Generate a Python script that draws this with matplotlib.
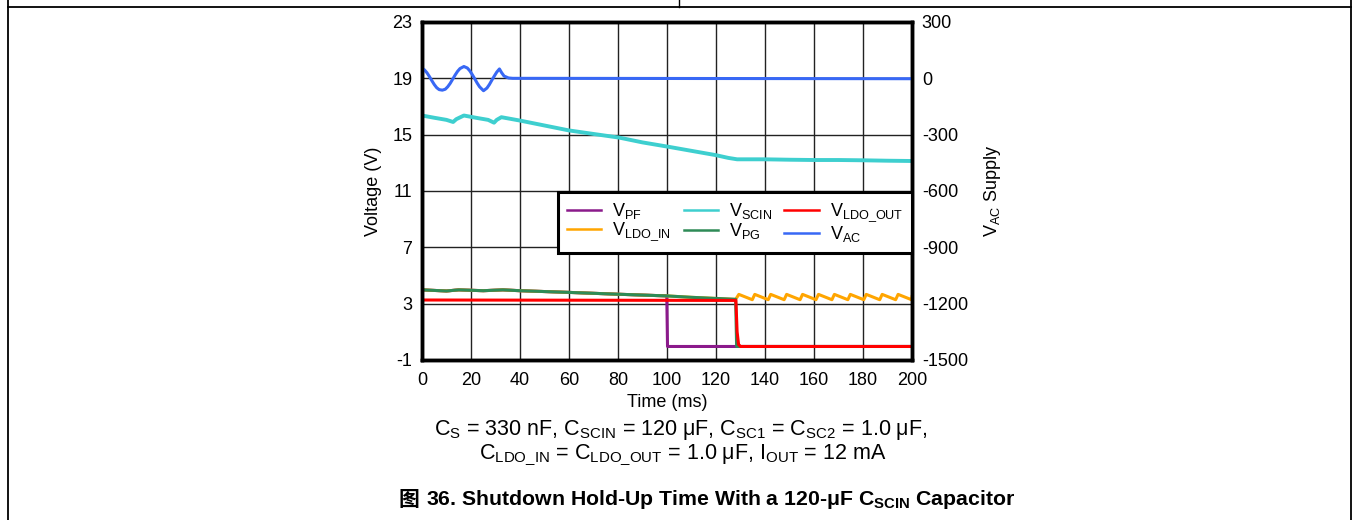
import matplotlib
matplotlib.use("Agg")
import matplotlib.pyplot as plt
from matplotlib.lines import Line2D

plt.rcParams['font.family'] = ['Liberation Sans', 'Noto Sans CJK SC', 'DejaVu Sans']
plt.rcParams['mathtext.fontset'] = 'custom'
plt.rcParams['mathtext.rm'] = 'Liberation Sans'
plt.rcParams['mathtext.it'] = 'Liberation Sans:italic'
plt.rcParams['mathtext.bf'] = 'Liberation Sans:bold'
plt.rcParams['axes.unicode_minus'] = False

# ---- data (time in ms) ----
# V_AC on the right axis
t_ac = [0, 1, 2, 3, 4, 5, 6, 7, 8.3, 9.5, 10.5, 11.5, 12.5, 13.5, 14.5, 15.5,
        17.1, 18.5, 19.5, 20.5, 21.5, 22.5, 23.5, 25.1, 26.5, 27.5, 28.5, 29.5,
        30.5, 31.6, 32.5, 33.5, 35.3, 37, 200]
v_ac = [54, 45, 30, 10, -12, -33, -50, -60, -63, -58, -45, -27, -5, 17, 37, 52,
        63, 55, 40, 20, -2, -25, -45, -66, -52, -33, -10, 12,
        33, 50, 30, 12, 2, 0, -2]

t_scin = [0, 5, 10, 12.7, 14, 17.1, 22, 27, 29.4, 30.5, 32.4, 40, 50, 60, 70,
          80.5, 90, 100.9, 110, 119.8, 125, 128.6, 135, 140, 150, 160, 170,
          180, 190, 200]
v_scin = [16.36, 16.2, 16.05, 15.9, 16.1, 16.36, 16.2, 16.05, 15.85, 16.05,
          16.24, 16.0, 15.65, 15.3, 15.05, 14.79, 14.45, 14.13, 13.85, 13.55,
          13.35, 13.25, 13.25, 13.25, 13.22, 13.2, 13.2, 13.18, 13.15, 13.13]

t_pg = [0, 10, 15, 25, 33, 40, 60, 80, 100, 110, 120, 128.0, 128.4, 200]
v_pg = [3.98, 3.9, 3.98, 3.92, 3.98, 3.92, 3.8, 3.67, 3.55, 3.45, 3.37, 3.31,
        -0.04, -0.04]

t_pf = [0, 10, 15, 25, 33, 40, 60, 80, 99.9, 100.2, 200]
v_pf = [3.98, 3.9, 3.98, 3.92, 3.98, 3.92, 3.8, 3.67, 3.55, -0.04, -0.04]

t_ldo_in = [0, 10, 15, 25, 33, 40, 60, 80, 100, 110, 120, 128.0,
            129.3, 134.8, 135.8, 141.3, 142.3, 147.8, 148.8, 154.3, 155.3,
            160.8, 161.8, 167.3, 168.3, 173.8, 174.8, 180.3, 181.3, 186.8,
            187.8, 193.3, 194.3, 199.8, 200]
v_ldo_in = [3.98, 3.9, 3.98, 3.92, 3.98, 3.92, 3.8, 3.67, 3.55, 3.45, 3.37,
            3.3, 3.66, 3.28, 3.66, 3.28, 3.66, 3.28, 3.66, 3.28, 3.66,
            3.28, 3.66, 3.28, 3.66, 3.28, 3.66, 3.28, 3.66, 3.28,
            3.66, 3.28, 3.66, 3.28, 3.5]

t_ldo_out = [0, 128.1, 128.6, 129.2, 130, 200]
v_ldo_out = [3.26, 3.23, 1.0, 0.1, -0.04, -0.04]

c_pf = '#8B1A8B'
c_ldo_in = '#FFA500'
c_scin = '#3ECFCF'
c_pg = '#2E8B57'
c_ldo_out = '#FF0000'
c_ac = '#3868F5'

fig = plt.figure(figsize=(13.53, 5.2), dpi=100)
ax = fig.add_axes([0.3119, 0.3077, 0.3622, 0.65])
ax2 = ax.twinx()

lw = 2.2
l_pf, = ax.plot(t_pf, v_pf, color=c_pf, lw=lw)
l_in, = ax.plot(t_ldo_in, v_ldo_in, color=c_ldo_in, lw=lw)
l_pg, = ax.plot(t_pg, v_pg, color=c_pg, lw=lw)
l_sc, = ax.plot(t_scin, v_scin, color=c_scin, lw=2.8)
l_out, = ax.plot(t_ldo_out, v_ldo_out, color=c_ldo_out, lw=lw)
l_ac, = ax2.plot(t_ac, v_ac, color=c_ac, lw=lw)

ax.set_xlim(0, 200)
ax.set_ylim(-1, 23)
ax.set_xticks(range(0, 201, 20))
ax.set_yticks(range(-1, 24, 4))
ax2.set_ylim(-1500, 300)
ax2.set_yticks(range(-1500, 301, 300))
ax.grid(True, color='#222222', lw=1.0)

for a in (ax, ax2):
    for s in a.spines.values():
        s.set_linewidth(2.5)
    a.tick_params(length=0, labelsize=13, pad=7)
ax.tick_params(axis='x', pad=9)

ax.set_xlabel('Time (ms)', fontsize=13, labelpad=3)
ax.set_ylabel('Voltage (V)', fontsize=13, labelpad=7)
ax2.set_ylabel(r'V$_\mathrm{AC}$ Supply', fontsize=13, labelpad=10)

handles = [l_pf, l_in, l_sc, l_pg, l_out, l_ac]
labels = [r'V$_\mathrm{PF}$', r'V$_\mathrm{LDO\_IN}$', r'V$_\mathrm{SCIN}$',
          r'V$_\mathrm{PG}$', r'V$_\mathrm{LDO\_OUT}$', r'V$_\mathrm{AC}$']
leg = ax2.legend(handles, labels, ncol=3, loc='upper right',
                 bbox_to_anchor=(1.0, 0.497), borderaxespad=0,
                 fontsize=13, frameon=True,
                 fancybox=False, edgecolor='black', framealpha=1,
                 handlelength=1.9, handletextpad=0.6, columnspacing=0.7,
                 labelspacing=0.0, borderpad=0.5)
leg.get_frame().set_linewidth(2.2)
for h in leg.get_lines():
    h.set_linewidth(1.8)

fig.text(0.503, 0.173,
         r'C$_\mathrm{S}$ = 330 nF, C$_\mathrm{SCIN}$ = 120 μF, '
         r'C$_\mathrm{SC1}$ = C$_\mathrm{SC2}$ = 1.0 μF,',
         ha='center', va='center', fontsize=15.5)
fig.text(0.505, 0.125,
         r'C$_\mathrm{LDO\_IN}$ = C$_\mathrm{LDO\_OUT}$ = 1.0 μF, '
         r'I$_\mathrm{OUT}$ = 12 mA',
         ha='center', va='center', fontsize=15.5)
W, H = 1353, 520
fig.text(398 / W, 0.04, '图', ha='left', va='center', fontsize=15,
         fontweight='bold', family=['Noto Sans CJK SC'])
fig.text(426 / W, 0.04,
         r'36. Shutdown Hold-Up Time With a 120-μF C$_\mathbf{SCIN}$ Capacitor',
         ha='left', va='center', fontsize=15.3, fontweight='bold')

# page frame lines
fig.add_artist(Line2D([8 / W, 8 / W], [0, 1], color='black', lw=1.3))
fig.add_artist(Line2D([1351 / W, 1351 / W], [0, 1], color='black', lw=1.3))
fig.add_artist(Line2D([8 / W, 1351 / W], [1 - 7 / H, 1 - 7 / H], color='black', lw=1.3))
fig.add_artist(Line2D([679 / W, 679 / W], [1 - 7 / H, 1], color='black', lw=1.0))

fig.savefig('out.png', dpi=100)
